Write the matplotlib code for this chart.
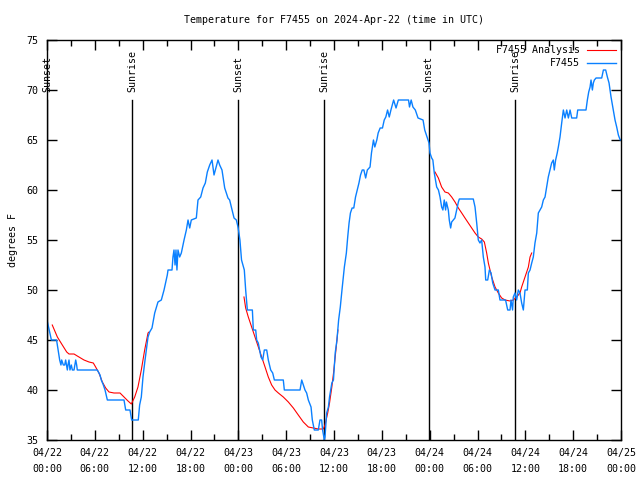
import numpy as np
import matplotlib
matplotlib.use("Agg")
import matplotlib.pyplot as plt
import matplotlib.dates as mdates

# hours after 2024-04-22 00:00 UTC, temperature in degrees F
obs_hours = [0.0, 0.55, 1.2, 1.4, 1.59, 1.75, 1.84, 2.05, 2.22, 2.34, 2.55, 2.63, 2.76, 2.88,
             3.05, 3.18, 3.39, 3.6, 3.72, 3.8, 6.31, 6.65, 6.81, 7.07, 7.28, 7.57, 9.66, 9.87,
             10.41, 10.62, 11.45, 11.62, 11.83, 12.04, 12.25, 12.46, 12.67, 12.88, 13.17, 13.51,
             13.92, 14.34, 14.68, 15.09, 15.18, 15.68, 15.8, 15.93, 16.06, 16.18, 16.3, 16.43,
             16.64, 16.85, 17.19, 17.48, 17.69, 17.9, 18.1, 18.73, 18.94, 19.28, 19.57, 19.86,
             20.11, 20.41, 20.7, 20.95, 21.12, 21.45, 21.66, 21.95, 22.29, 22.7, 22.91, 23.21,
             23.46, 23.75, 23.96, 24.2, 24.4, 24.75, 24.92, 25.13, 25.76, 25.88, 26.18, 26.3,
             26.5, 26.84, 27.06, 27.26, 27.56, 27.76, 28.06, 28.31, 28.52, 29.64, 29.77, 31.74,
             31.95, 32.15, 32.36, 32.57, 32.78, 33.12, 33.28, 33.53, 34.03, 34.24, 34.45, 34.57,
             34.79, 34.87, 35.08, 35.3, 35.44, 35.73, 35.93, 36.15, 36.37, 36.58, 36.79, 37.0,
             37.3, 37.55, 37.72, 37.89, 38.06, 38.27, 38.48, 38.7, 38.91, 39.13, 39.33, 39.54,
             39.75, 39.97, 40.18, 40.52, 40.7, 40.95, 41.12, 41.37, 41.54, 41.79, 42.08, 42.3,
             42.5, 42.72, 42.93, 43.14, 43.48, 43.78, 44.07, 45.35, 45.47, 45.68, 45.9, 46.2,
             46.54, 47.17, 47.38, 47.72, 47.92, 48.04, 48.25, 48.4, 48.58, 48.88, 49.1, 49.3,
             49.5, 49.66, 49.83, 50.0, 50.1, 50.34, 50.46, 50.63, 50.76, 50.97, 51.17, 51.39,
             51.6, 51.72, 53.47, 53.69, 53.9, 54.1, 54.31, 54.52, 54.73, 54.94, 55.03, 55.28,
             55.49, 55.7, 55.91, 56.2, 56.61, 56.82, 57.52, 57.79, 58.08, 58.2, 58.4, 58.49,
             58.7, 58.91, 59.12, 59.33, 59.54, 59.75, 59.96, 60.25, 60.38, 60.59, 60.8, 61.0,
             61.21, 61.43, 61.63, 61.84, 62.05, 62.26, 62.47, 62.68, 62.88, 63.09, 63.3, 63.51,
             63.63, 63.8, 64.0, 64.14, 64.35, 64.56, 64.77, 64.98, 65.19, 65.4, 65.61, 65.82,
             66.44, 66.57, 67.61, 67.78, 67.95, 68.12, 68.24, 68.41, 68.53, 68.66, 68.87, 69.58,
             69.79, 70.08, 70.29, 70.5, 70.75, 71.04, 71.25, 71.46, 71.67, 71.9, 71.95]
obs_temp = [47.0, 45.0, 45.0, 44.0, 43.0, 42.5, 43.0, 42.5, 42.5, 43.0, 42.0, 42.5, 43.0, 42.0,
            42.5, 42.0, 42.0, 43.0, 42.5, 42.0, 42.0, 41.5, 41.0, 40.5, 40.0, 39.0, 39.0, 38.0,
            38.0, 37.0, 37.0, 38.5, 39.3, 41.3, 42.7, 44.0, 45.3, 45.8, 46.2, 47.7,
            48.8, 49.0, 50.0, 51.5, 52.0, 52.0, 53.3, 54.0, 52.5, 54.0, 52.0, 54.0,
            53.3, 53.7, 55.0, 56.0, 57.0, 56.2, 57.0, 57.2, 59.0, 59.3, 60.2, 60.7,
            61.8, 62.5, 63.0, 61.5, 62.0, 63.0, 62.5, 62.0, 60.2, 59.2, 59.0, 58.0,
            57.2, 57.0, 56.3, 55.0, 53.0, 52.0, 50.0, 48.0, 48.0, 46.0, 46.0, 45.0,
            44.7, 43.3, 43.0, 44.0, 44.0, 43.0, 42.0, 41.7, 41.0, 41.0, 40.0, 40.0,
            41.0, 40.5, 40.0, 39.7, 39.0, 38.3, 37.0, 36.0, 36.0, 37.0, 37.0, 36.0,
            35.0, 35.3, 37.7, 38.3, 39.3, 40.7, 41.0, 43.7, 45.0, 47.0, 48.3, 50.0,
            52.3, 53.7, 55.3, 56.7, 57.7, 58.2, 58.2, 59.3, 60.0, 60.7, 61.5, 62.0,
            62.0, 61.2, 62.0, 62.3, 63.7, 65.0, 64.3, 65.0, 65.7, 66.2, 66.2, 67.0,
            67.3, 68.0, 67.3, 68.0, 69.0, 68.2, 69.0, 69.0, 68.3, 69.0, 68.3, 68.0,
            67.2, 67.0, 66.0, 65.2, 64.7, 63.7, 63.2, 63.0, 61.7, 60.3, 60.0, 59.3,
            58.3, 58.0, 59.0, 58.0, 58.8, 58.0, 57.0, 56.2, 56.8, 57.0, 57.2, 58.0,
            58.8, 59.1, 59.1, 58.3, 56.7, 55.0, 54.7, 55.0, 53.3, 52.3, 51.0, 51.0,
            52.0, 51.7, 50.7, 50.0, 50.0, 49.0, 49.0, 48.0, 48.0, 49.0, 48.0, 49.3,
            49.7, 49.0, 50.0, 49.7, 48.7, 48.0, 50.0, 50.0, 51.7, 52.0, 52.7, 53.3,
            54.7, 55.7, 57.7, 58.0, 58.3, 59.0, 59.3, 60.3, 61.3, 62.0, 62.7, 63.0,
            62.0, 63.0, 63.7, 64.3, 65.3, 66.7, 68.0, 67.2, 68.0, 67.2, 68.0, 67.2,
            67.2, 68.0, 68.0, 69.0, 69.8, 70.3, 71.0, 70.0, 70.7, 71.0, 71.2, 71.2,
            72.0, 72.0, 71.3, 70.7, 69.3, 68.0, 67.0, 66.3, 65.5, 65.0, 65.0]

# analysis, three separate runs
ana1_hours = [0.66, 1.3, 1.92, 2.47, 2.76, 3.39, 3.8, 4.22, 4.64, 5.27, 5.81, 6.1, 6.52, 6.94,
              7.36, 7.78, 8.4, 9.16, 9.66, 10.16, 10.58, 11.0, 11.41, 11.83, 12.25, 12.67, 12.8]
ana1_temp = [46.5, 45.3, 44.5, 43.8, 43.6, 43.6, 43.4, 43.2, 43.0, 42.8, 42.7, 42.3, 41.7, 40.8,
             40.2, 39.8, 39.7, 39.7, 39.3, 38.9, 38.6, 39.3, 40.3, 42.0, 44.0, 45.7, 45.8]
ana2_hours = [24.71, 24.92, 25.25, 25.67, 26.09, 26.51, 26.93, 27.35, 27.76, 28.18, 28.6, 29.02,
              29.64, 30.27, 30.9, 31.52, 32.15, 32.78, 33.4, 34.03, 34.66, 34.87, 35.21, 35.44,
              35.73, 35.94, 36.15, 36.37, 36.49]
ana2_temp = [49.3, 48.2, 47.3, 46.3, 45.3, 44.3, 43.3, 42.3, 41.3, 40.5, 40.0, 39.7,
             39.3, 38.8, 38.2, 37.5, 36.8, 36.3, 36.2, 36.1, 36.1, 36.5, 37.7, 38.7,
             40.3, 41.7, 43.3, 45.0, 46.0]
ana3_hours = [48.67, 49.09, 49.5, 49.92, 50.34, 50.76, 51.18, 51.6, 52.02, 52.43, 52.85, 53.27,
              53.69, 54.1, 54.52, 54.86, 55.15, 55.36, 55.57, 55.78, 55.99, 56.2, 56.61, 57.03,
              57.45, 58.08, 58.49, 58.91, 59.33, 59.54, 59.96, 60.38, 60.59, 60.8]
ana3_temp = [61.8, 61.2, 60.3, 59.8, 59.7, 59.3, 58.8, 58.2, 57.7, 57.2, 56.7, 56.2,
             55.7, 55.3, 55.1, 54.8, 53.7, 52.7, 52.0, 51.3, 50.8, 50.3, 49.7, 49.2,
             49.0, 48.9, 49.0, 49.3, 49.7, 50.3, 51.3, 52.3, 53.3, 53.7]

sun_hours = [0.0, 10.66, 23.96, 34.75, 47.9, 58.7]
sun_labels = ["Sunset", "Sunrise", "Sunset", "Sunrise", "Sunset", "Sunrise"]

base = np.datetime64("2024-04-22T00:00")


def to_time(hours):
    return base + (np.asarray(hours) * 3600).astype("timedelta64[s]")


font = "DejaVu Sans Mono"
fs = 7.2

fig = plt.figure(figsize=(6.4, 4.8), dpi=100)
ax = fig.add_axes([47 / 640, 40 / 480, 574 / 640, 400 / 480])

# sunrise / sunset markers
for h, lab in zip(sun_hours, sun_labels):
    t = to_time(h)
    ax.plot([t, t], [35, 69], color="black", lw=1.0, zorder=1)
    ax.text(t, 69.8, lab, rotation=90, ha="center", va="bottom",
            family=font, fontsize=fs, zorder=3)

red = "#ff0000"
blue = "#0a80ff"
ax.plot(to_time(ana1_hours), ana1_temp, color=red, lw=0.8, label="F7455 Analysis", zorder=2)
ax.plot(to_time(ana2_hours), ana2_temp, color=red, lw=0.8, zorder=2)
ax.plot(to_time(ana3_hours), ana3_temp, color=red, lw=0.8, zorder=2)
ax.plot(to_time(obs_hours), obs_temp, color=blue, lw=1.0, label="F7455", zorder=2)

ax.set_xlim(to_time(0), to_time(72))
ax.set_ylim(35, 75)
ax.set_yticks(np.arange(35, 76, 5))
ax.xaxis.set_major_locator(mdates.HourLocator(byhour=[0, 6, 12, 18]))
ax.xaxis.set_minor_locator(mdates.HourLocator(byhour=[3, 9, 15, 21]))
ax.xaxis.set_major_formatter(mdates.DateFormatter("%m/%d\n%H:%M"))

ax.tick_params(which="both", direction="in", top=True, right=True, width=1.0)
ax.tick_params(which="major", length=7, pad=6)
ax.tick_params(which="minor", length=4)
for lab in ax.get_xticklabels() + ax.get_yticklabels():
    lab.set_family(font)
    lab.set_fontsize(fs)
for lab in ax.get_xticklabels():
    lab.set_linespacing(1.7)
for s in ax.spines.values():
    s.set_linewidth(1.0)

ax.set_ylabel("degrees F", family=font, fontsize=fs, labelpad=6)
ax.set_title("Temperature for F7455 on 2024-Apr-22 (time in UTC)", family=font,
             fontsize=fs, pad=12)

leg = ax.legend(loc="upper right", frameon=False, markerfirst=False,
                prop={"family": font, "size": fs}, handlelength=2.9,
                borderaxespad=0.15, labelspacing=0.3, handletextpad=0.7)
for t in leg.get_texts():
    t.set_ha("right")

fig.savefig("out.png", dpi=100)
